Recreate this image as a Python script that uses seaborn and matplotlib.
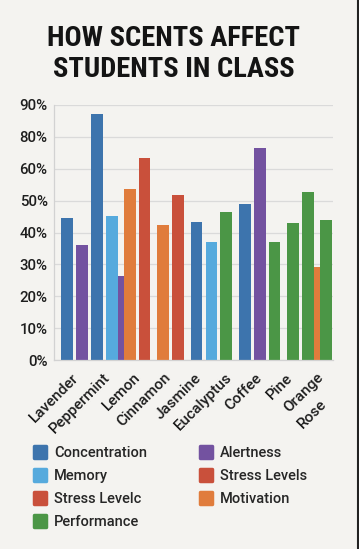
import numpy as np
import pandas as pd
import matplotlib
matplotlib.use("Agg")
import matplotlib.pyplot as plt
import matplotlib.transforms as mtransforms
from matplotlib import font_manager
from matplotlib.lines import Line2D
from matplotlib.markers import MarkerStyle
import seaborn as sns

# Scent names on the x axis (Rose wraps below Orange in the original)
scents = ["Lavender", "Peppermint", "Lemon", "Cinnamon", "Jasmine",
          "Eucalyptus", "Coffee", "Pine", "Orange", "Rose"]

# Legend entries, in the order they are listed
metrics = ["Concentration", "Memory", "Stress Levelc", "Performance",
           "Alertness", "Stress Levels", "Motivation"]
metric_colors = ["#3d74ad", "#56aadd", "#c9503b", "#4b9646",
                 "#7352a0", "#c9503b", "#e07c3c"]

# One entry per bar, left to right (values in axis units; the axis skips 70%)
bar_metric = ["Concentration", "Alertness", "Concentration", "Memory", "Alertness",
              "Motivation", "Stress Levels",
              "Motivation", "Stress Levels",
              "Concentration", "Memory", "Performance",
              "Concentration", "Alertness", "Performance",
              "Performance", "Performance", "Motivation", "Performance"]
bar_value = [44.5, 36.0, 77.0, 45.2, 26.4, 53.7, 63.4,
             42.2, 51.6,
             43.3, 37.0, 46.3,
             48.9, 66.4, 37.0,
             42.9, 52.6, 29.3, 43.9]
bar_group = [0, 0, 0, 0, 0, 0, 0,
             1, 1,
             2, 2, 2,
             3, 3, 3,
             4, 4, 4, 4]
# narrow bars squeezed in behind their neighbours
bar_tucked = [False, False, False, False, True, False, False,
              False, False,
              False, False, False,
              False, False, False,
              False, False, True, False]

ytick_labels = ["0%", "10%", "20%", "30%", "40%", "50%", "60%", "80%", "90%"]

# ---- layout: bar slots from group membership ----
group_gap = 0.25
tuck_step = 0.6
pos = []
for i in range(len(bar_value)):
    if i == 0:
        pos.append(0.0)
        continue
    step = tuck_step if (bar_tucked[i] or bar_tucked[i - 1]) else 1.0
    if bar_group[i] != bar_group[i - 1]:
        step += group_gap
    pos.append(pos[-1] + step)

df = pd.DataFrame({"pos": pos, "metric": bar_metric, "value": bar_value})
palette = dict(zip(metrics, metric_colors))

bg = "#f4f3f0"
sns.set_theme(style="whitegrid")
plt.rcParams["font.family"] = ["Roboto", "DejaVu Sans"]

# condensed heavy face for the title if one is installed
avail = {f.name for f in font_manager.fontManager.ttflist}
title_font, title_size = "Roboto", 18.5
for cand in ["Roboto Condensed", "Liberation Sans Narrow", "DejaVu Sans Condensed"]:
    if cand in avail:
        title_font, title_size = cand, 20.5
        break

fig = plt.figure(figsize=(3.59, 5.49), dpi=100, facecolor=bg)
ax = fig.add_axes([0.150, 0.344, 0.778, 0.465])
ax.set_facecolor(bg)

sns.barplot(data=df, x="pos", y="value", hue="metric", palette=palette,
            native_scale=True, dodge=False, width=0.79 / tuck_step,
            saturation=1, linewidth=0, legend=False, ax=ax)

# push the squeezed bars behind their neighbours
tucked_pos = [p for p, t in zip(pos, bar_tucked) if t]
for patch in ax.patches:
    cx = patch.get_x() + patch.get_width() / 2
    if any(abs(cx - tp) < 1e-6 for tp in tucked_pos):
        patch.set_zorder(0.9)
    else:
        patch.set_zorder(1.0)

ax.set_xlim(-0.91, 17.9)
ax.set_ylim(0, 80)
ax.set_yticks(np.arange(0, 81, 10))
ax.set_yticklabels(ytick_labels)
ax.grid(axis="y", color="#dadada", linewidth=0.9)
ax.grid(axis="x", visible=False)
ax.set_axisbelow(True)
for side in ["top", "right"]:
    ax.spines[side].set_visible(False)
for side in ["left", "bottom"]:
    ax.spines[side].set_color("#d2d2d2")
    ax.spines[side].set_linewidth(0.9)
ax.set_xlabel("")
ax.set_ylabel("")

# x tick labels: nine evenly spaced, Rose wraps under Orange
tick_x = list(np.linspace(0.64, 17.09, len(scents) - 1))
tick_x.append(tick_x[-1] + 0.2)
ax.set_xticks(tick_x)
ax.set_xticklabels(scents, rotation=45, ha="right", va="center",
                   rotation_mode="anchor")
ax.tick_params(axis="x", length=0, pad=11, labelsize=11, labelcolor="#1e1e1e")
ax.tick_params(axis="y", length=0, pad=4.5, labelsize=10.8, labelcolor="#1e1e1e")
for lbl in ax.get_xticklabels() + ax.get_yticklabels():
    lbl.set_fontweight("medium")
rose = ax.get_xticklabels()[-1]
rose.set_transform(rose.get_transform() +
                   mtransforms.ScaledTranslation(0, -0.26, fig.dpi_scale_trans))

fig.text(0.483, 1 - 25 / 549, "HOW SCENTS AFFECT\nSTUDENTS IN CLASS",
         ha="center", va="top", fontsize=title_size, fontweight="bold",
         family=[title_font, "DejaVu Sans"], linespacing=1.18,
         color="#141414")

handles = [Line2D([], [], ls="", marker=MarkerStyle("s", joinstyle="round"),
                  ms=8.5, mew=2.5, mfc=c, mec=c) for c in metric_colors]
fig.legend(handles, metrics, ncol=2, loc="upper left",
           bbox_to_anchor=(0.09, 1 - 446 / 549), frameon=False,
           prop={"size": 10.5, "weight": "medium"}, handletextpad=0.5,
           columnspacing=3.5, labelspacing=0.62, borderpad=0, borderaxespad=0,
           handlelength=1.0)

fig.add_artist(Line2D([0.997, 0.997], [0, 1], transform=fig.transFigure,
                      color="#222222", linewidth=1.5))

fig.savefig("out.png", dpi=100, facecolor=bg)
